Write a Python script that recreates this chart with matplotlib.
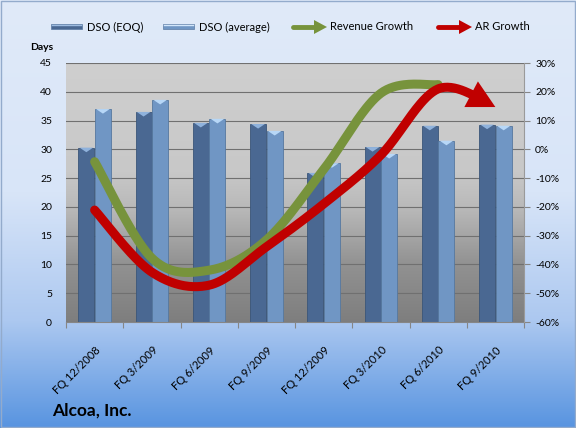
import numpy as np
import matplotlib
matplotlib.use('Agg')
from matplotlib import pyplot as plt
from matplotlib import transforms as mtransforms
from matplotlib.lines import Line2D
from matplotlib.patches import Polygon, Rectangle

plt.rcParams['font.family'] = ['Lato', 'DejaVu Sans']

quarters = ['FQ 12/2008', 'FQ 3/2009', 'FQ 6/2009', 'FQ 9/2009',
            'FQ 12/2009', 'FQ 3/2010', 'FQ 6/2010', 'FQ 9/2010']
dso_eoq = [30.3, 36.5, 34.6, 34.4, 25.9, 30.4, 34.1, 34.3]
dso_avg = [37.0, 38.6, 35.3, 33.2, 27.6, 29.2, 31.5, 34.1]
# growth in percent, revenue has no value for the last quarter
revenue_growth = [-4.3, -37.8, -42.0, -31.5, -7.0, 19.5, 22.5, np.nan]
ar_growth = [-21.1, -42.7, -47.2, -33.9, -19.0, -2.0, 21.0, 14.7]

W, H = 576, 428
EOQ_COLOR = '#4a6892'
AVG_COLOR = '#7096c4'
GREEN = '#77933c'
RED = '#c00000'


def fig_xy(x, y):
    return x / W, 1 - y / H


def gradient(stops, n=256):
    pos = np.array([s[0] for s in stops])
    cols = np.array([s[1] for s in stops]) / 255.0
    t = np.linspace(0, 1, n)
    img = np.stack([np.interp(t, pos, cols[:, k]) for k in range(3)], axis=1)
    return img[:, None, :]


def smooth(xs, ys, steps=40):
    """Bezier curve through the points, like excel's smoothed line."""
    pts = np.column_stack([xs, ys]).astype(float)
    n = len(pts)
    out = [pts[0]]
    t = np.linspace(0, 1, steps)[1:, None]
    for i in range(n - 1):
        p0, p3 = pts[i], pts[i + 1]
        prev = pts[i - 1] if i > 0 else pts[i]
        nxt = pts[i + 2] if i + 2 < n else pts[i + 1]
        p1 = p0 + (p3 - prev) / 6
        p2 = p3 - (nxt - p0) / 6
        seg = (1 - t) ** 3 * p0 + 3 * (1 - t) ** 2 * t * p1 + 3 * (1 - t) * t ** 2 * p2 + t ** 3 * p3
        out.extend(seg)
    out = np.array(out)
    return out[:, 0], out[:, 1]


def arrow_line(ax, xs, ys, color, lw, head_len=27, head_w=29):
    sx, sy = smooth(xs, ys)
    pts = ax.transData.transform(np.column_stack([sx, sy]))
    tip = pts[-1]
    dist = np.hypot(pts[:, 0] - tip[0], pts[:, 1] - tip[1])
    base = pts[np.where(dist >= head_len)[0][-1]]
    d = (tip - base) / np.hypot(*(tip - base))
    nrm = np.array([-d[1], d[0]])
    head = np.array([tip, base + nrm * head_w / 2, base - nrm * head_w / 2])
    end = np.where(dist >= head_len * 0.6)[0][-1]
    ax.plot(sx[:end + 1], sy[:end + 1], color=color, lw=lw, solid_capstyle='round', zorder=3)
    ax.add_patch(Polygon(ax.transData.inverted().transform(head), closed=True,
                         facecolor=color, edgecolor='none', zorder=3))


fig = plt.figure(figsize=(W / 100, H / 100), dpi=100)

# figure background
bg = fig.add_axes([0, 0, 1, 1], zorder=-10)
bg.imshow(gradient([(0, (224, 234, 249)), (0.45, (216, 229, 248)),
                    (0.75, (172, 200, 240)), (1.0, (88, 148, 224))]),
          aspect='auto', extent=[0, 1, 0, 1])
bg.add_patch(Rectangle((0.001, 0.002), 0.997, 0.995, fill=False, ec='#93abcc', lw=1,
                       transform=bg.transAxes))
bg.set_axis_off()

left, right, top, bottom = 66, 524, 63, 322
ax = fig.add_axes([left / W, 1 - bottom / H, (right - left) / W, (bottom - top) / H])
ax.imshow(gradient([(0, (207, 207, 207)), (0.42, (200, 200, 200)), (0.56, (185, 185, 185)),
                    (0.78, (145, 145, 145)), (1.0, (126, 126, 126))]),
          aspect='auto', extent=[0, 1, 0, 1], transform=ax.transAxes, zorder=0)

x = np.arange(len(quarters))
bw = 0.28
bars1 = ax.bar(x - 0.145, dso_eoq, bw, color=EOQ_COLOR, edgecolor='#3b5679', lw=0.6, zorder=2)
bars2 = ax.bar(x + 0.145, dso_avg, bw, color=AVG_COLOR, edgecolor='#56789f', lw=0.6, zorder=2)
for bars, cap in ((bars1, '#8fb2dc'), (bars2, '#b7d7f7')):
    for b in bars:
        x0, w, h = b.get_x(), b.get_width(), b.get_height()
        ax.add_patch(Polygon([(x0 + 0.02, h), (x0 + w - 0.02, h), (x0 + w / 2, h - 0.8)],
                             closed=True, facecolor=cap, edgecolor='none', zorder=2.1))

ax.set_xlim(-0.5, len(quarters) - 0.5)
ax.set_ylim(0, 45)
ax.set_yticks(range(0, 50, 5))
ax.yaxis.grid(True, color='#707070', lw=0.8)
ax.set_axisbelow(True)
ax.set_xticks(np.arange(len(quarters) + 1) - 0.5)
ax.set_xticklabels([])
ax.set_xticks(x, minor=True)
ax.set_xticklabels(quarters, minor=True, rotation=45, ha='right', va='center',
                   rotation_mode='anchor', fontsize=8)
ax.tick_params(axis='x', which='major', length=4, color='#868686', direction='out')
ax.tick_params(axis='x', which='minor', length=0, pad=19)
ax.tick_params(axis='y', length=0, pad=10, labelsize=7.5)
shift = mtransforms.ScaledTranslation(0.04, 0, fig.dpi_scale_trans)
for lbl in ax.get_xticklabels(minor=True):
    lbl.set_transform(lbl.get_transform() + shift)
for s in ('top', 'left', 'right'):
    ax.spines[s].set_visible(False)
ax.spines['bottom'].set_color('#868686')

ax2 = ax.twinx()
ax2.set_ylim(-60, 30)
ax2.set_yticks(range(-60, 31, 10))
ax2.set_yticklabels([f'{v}%' for v in range(-60, 31, 10)])
ax2.tick_params(axis='y', length=4, color='#868686', pad=4, labelsize=7.5)
for s in ('top', 'left', 'bottom'):
    ax2.spines[s].set_visible(False)
ax2.spines['right'].set_color('#9a9a9a')

rev = np.array(revenue_growth)
ok = ~np.isnan(rev)
gx, gy = smooth(x[ok], rev[ok])
ax2.plot(gx, gy, color=GREEN, lw=6.5, solid_capstyle='round', zorder=3)
arrow_line(ax2, x, ar_growth, RED, 6.5)

# legend drawn by hand along the top
ly = 27
for x0, col, top_col, label in ((51, EOQ_COLOR, '#9dbbe0', 'DSO (EOQ)'),
                                (163, AVG_COLOR, '#d2e6fb', 'DSO (average)')):
    fx, fy = fig_xy(x0, ly + 2)
    fig.add_artist(Rectangle((fx, fy), 31 / W, 5 / H, transform=fig.transFigure,
                             facecolor=col, edgecolor='#5a7aa3', lw=0.5))
    fig.add_artist(Line2D([fx + 1 / W, fx + 30 / W], [fy + 3.8 / H] * 2,
                          transform=fig.transFigure, color=top_col, lw=1))
    fig.text(*fig_xy(x0 + 36, ly), label, fontsize=8, va='center', ha='left')
for x0, col, label in ((293, GREEN, 'Revenue Growth'), (438, RED, 'AR Growth')):
    fig.add_artist(Line2D([x0 / W, (x0 + 24) / W], [1 - ly / H] * 2, transform=fig.transFigure,
                          color=col, lw=3.5, solid_capstyle='round'))
    fig.add_artist(Polygon([fig_xy(x0 + 34, ly), fig_xy(x0 + 21, ly - 7), fig_xy(x0 + 21, ly + 7)],
                           closed=True, transform=fig.transFigure, facecolor=col, edgecolor='none'))
    fig.text(*fig_xy(x0 + 37, ly), label, fontsize=8, va='center', ha='left')

fig.text(*fig_xy(42, 47), 'Days', fontsize=7.5, fontweight='bold', ha='center', va='center')
fig.text(*fig_xy(52, 411), 'Alcoa, Inc.', fontsize=12.5, fontweight='bold', ha='left', va='center')

fig.savefig('out.png', dpi=100)
